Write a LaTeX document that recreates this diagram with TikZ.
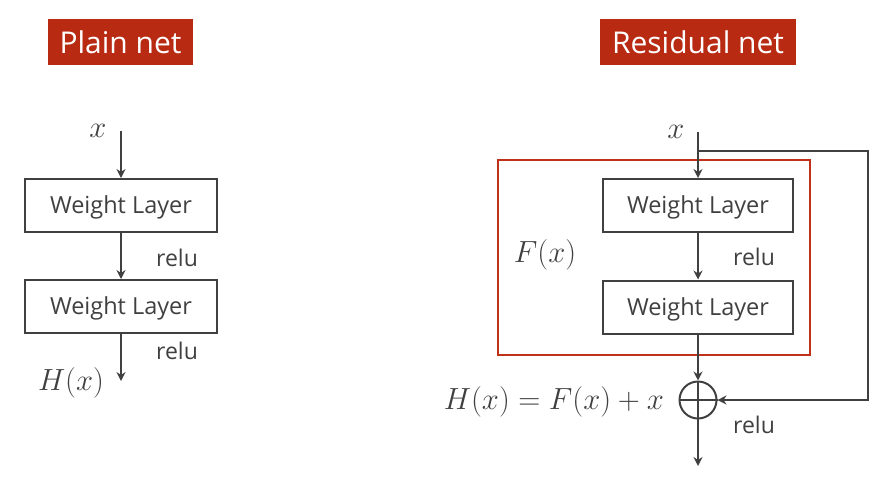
\documentclass[tikz,border=0pt]{standalone}
\usepackage{graphicx}
\usepackage{fontspec}
\setmainfont{Open Sans}
\usetikzlibrary{arrows.meta}
\definecolor{ink}{HTML}{404040}
\definecolor{brick}{HTML}{B82A12}
\definecolor{frame}{HTML}{C0311A}
\newcommand{\bigmath}[1]{\scalebox{1.23}{$#1$}}
\tikzset{
  arr/.style={draw=ink, line width=2pt, -{Stealth[length=9pt,width=9pt,inset=3pt]}},
  ln/.style={draw=ink, line width=2pt},
  layer/.style={draw=ink, line width=2pt, minimum height=53pt, inner sep=0pt,
    text height=16pt, text depth=0pt,
    font=\fontsize{23.5}{27}\selectfont, text=ink},
  lbl/.style={font=\fontsize{23}{27}\selectfont, text=ink, inner sep=0pt},
  mth/.style={font=\fontsize{24.88}{30}\selectfont, text=ink, inner sep=0pt},
  title/.style={fill=brick, text=white, font=\fontsize{30}{34}\selectfont, inner sep=0pt}
}
\begin{document}
\begin{tikzpicture}[x=1pt,y=-1pt]
\useasboundingbox (0,0) rectangle (890,477);
% titles
\node[title, minimum width=145pt, minimum height=46pt] (t1) at (120.5,42) {Plain net};
\node[title, minimum width=196pt, minimum height=46pt] (t2) at (698,42) {Residual net};
% plain net
\node[mth] (px) at (98,131) {\bigmath{x}};
\coordinate (pin) at (121,131);
\node[layer, minimum width=192pt] (p1) at (121,205.5) {Weight Layer};
\node[layer, minimum width=192pt] (p2) at (121,306.5) {Weight Layer};
\coordinate (pout) at (121,381);
\node[lbl] (pr1) at (177,258) {relu};
\node[lbl] (pr2) at (177,351) {relu};
\node[mth] (ph) at (71,383) {\bigmath{H(x)}};
\draw[arr] (pin) -- (p1.north);
\draw[arr] (p1.south) -- (p2.north);
\draw[arr] (p2.south) -- (pout);
% residual net
\node[draw=frame, line width=2pt, minimum width=312pt, minimum height=195pt, inner sep=0pt] (fb) at (654,257.5) {};
\node[mth] (rx) at (676,132) {\bigmath{x}};
\coordinate (rin) at (698,132);
\coordinate (split) at (698,151);
\node[layer, minimum width=190pt] (r1) at (698,205.5) {Weight Layer};
\node[layer, minimum width=190pt] (r2) at (698,307) {Weight Layer};
\node[lbl] (rr1) at (754,257) {relu};
\node[mth] (fx) at (545,255) {\bigmath{F(x)}};
\node[draw=ink, line width=2pt, circle, minimum size=37pt, inner sep=0pt] (plus) at (698,400) {};
\draw[ln] (plus.north) -- (plus.south) (plus.west) -- (plus.east);
\node[mth, anchor=east] (hx) at (664,402) {\bigmath{H(x)=F(x)+x}};
\node[lbl] (rr2) at (754,425) {relu};
\coordinate (rout) at (698,466);
\draw[arr] (rin) -- (r1.north);
\draw[arr] (r1.south) -- (r2.north);
\draw[arr] (r2.south) -- (plus.north);
\draw[arr] (plus.south) -- (rout);
\draw[arr] (split) -- (868,151) |- (plus.east);
\end{tikzpicture}
\end{document}
